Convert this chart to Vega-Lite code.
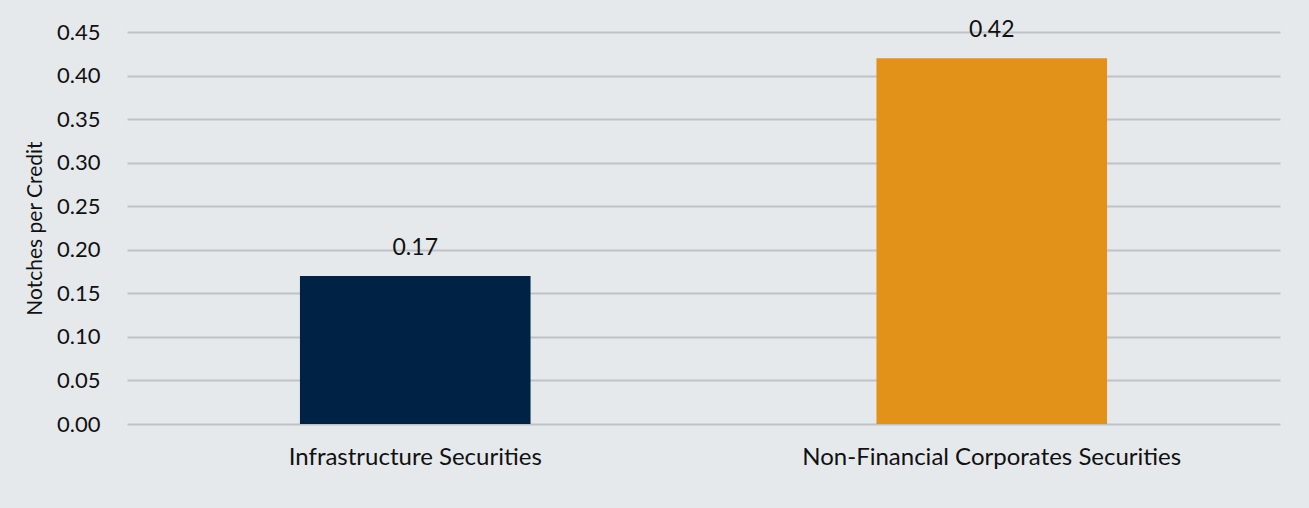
{
  "$schema": "https://vega.github.io/schema/vega-lite/v6.json",
  "width": 1153,
  "height": 392,
  "autosize": {"type": "none"},
  "padding": {"left": 127, "top": 32, "right": 29, "bottom": 84},
  "background": "#E6E9EC",
  "config": {
    "view": {"stroke": null},
    "font": "Lato",
    "axis": {"labelFont": "Lato", "titleFont": "Lato", "labelColor": "#111111", "titleColor": "#111111"}
  },
  "data": {
    "values": [
      {"category": "Infrastructure Securities", "value": 0.17},
      {"category": "Non-Financial Corporates Securities", "value": 0.42}
    ]
  },
  "encoding": {
    "x": {
      "field": "category",
      "type": "nominal",
      "sort": null,
      "scale": {"paddingInner": 0.6, "paddingOuter": 0.3},
      "axis": {"title": null, "labelAngle": 0, "ticks": false, "domain": false, "labelFontSize": 24, "labelPadding": 21, "labelLimit": 0, "labelFontWeight": "normal"}
    },
    "y": {
      "field": "value",
      "type": "quantitative",
      "scale": {"domain": [0, 0.45]},
      "axis": {
        "title": "Notches per Credit",
        "titleFontSize": 21,
        "titleFontWeight": "normal",
        "titlePadding": 11,
        "values": [0, 0.05, 0.1, 0.15, 0.2, 0.25, 0.3, 0.35, 0.4, 0.45],
        "format": ".2f",
        "labelFontSize": 22,
        "labelPadding": 27,
        "ticks": false,
        "domain": false,
        "grid": true,
        "gridColor": "#BEC3C8",
        "gridWidth": 2
      }
    }
  },
  "layer": [
    {
      "mark": {"type": "bar"},
      "encoding": {
        "color": {
          "field": "category",
          "type": "nominal",
          "scale": {"domain": ["Infrastructure Securities", "Non-Financial Corporates Securities"], "range": ["#002345", "#E29219"]},
          "legend": null
        }
      }
    },
    {
      "mark": {"type": "text", "baseline": "bottom", "dy": -16, "fontSize": 23, "color": "#111111"},
      "encoding": {
        "text": {"field": "value", "type": "quantitative", "format": ".2f"}
      }
    }
  ]
}
